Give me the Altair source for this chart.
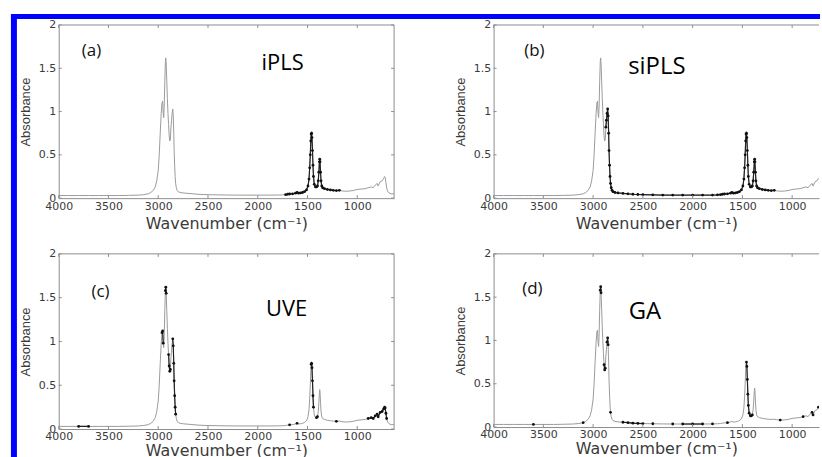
import altair as alt
import pandas as pd

# ---- spectrum (wavenumber cm-1, absorbance) ----
wavenumber = [4000, 3900, 3800, 3700, 3600, 3500, 3400, 3300, 3200, 3150, 3100, 3075, 3050, 3030, 3015,
              3000, 2990, 2980, 2970, 2962, 2956, 2950, 2945, 2940, 2934, 2928, 2924, 2920, 2914, 2908,
              2902, 2896, 2890, 2884, 2878, 2872, 2866, 2860, 2854, 2849, 2844, 2840, 2835, 2830, 2825,
              2818, 2810, 2800, 2780, 2750, 2700, 2650, 2600, 2550, 2500, 2400, 2300, 2200, 2100, 2000,
              1900, 1800, 1750, 1720, 1700, 1680, 1650, 1620, 1605, 1590, 1570, 1550, 1530, 1510, 1495,
              1485, 1478, 1472, 1467, 1463, 1459, 1455, 1450, 1445, 1440, 1432, 1420, 1410, 1400, 1392,
              1386, 1380, 1377, 1374, 1369, 1364, 1357, 1348, 1330, 1300, 1270, 1240, 1210, 1180, 1160,
              1120, 1080, 1040, 1000, 960, 920, 890, 860, 840, 820, 800, 790, 770, 750, 735,
              725, 720, 712, 705, 695, 680, 660, 640, 630]
absorbance = [0.03, 0.03, 0.03, 0.03, 0.03, 0.03, 0.03, 0.032, 0.035, 0.04, 0.05, 0.065, 0.09, 0.13, 0.2,
              0.32, 0.5, 0.75, 0.98, 1.1, 1.12, 0.98, 0.93, 1.05, 1.35, 1.58, 1.62, 1.55, 1.35, 1.15,
              0.98, 0.85, 0.72, 0.66, 0.68, 0.82, 0.9, 0.98, 1.03, 0.95, 0.75, 0.55, 0.38, 0.25, 0.17,
              0.12, 0.09, 0.075, 0.065, 0.06, 0.055, 0.05, 0.045, 0.042, 0.04, 0.038, 0.036, 0.035, 0.035, 0.035,
              0.035, 0.036, 0.038, 0.04, 0.045, 0.048, 0.05, 0.058, 0.065, 0.058, 0.06, 0.065, 0.075, 0.095, 0.14,
              0.22, 0.35, 0.5, 0.66, 0.74, 0.75, 0.7, 0.55, 0.38, 0.25, 0.16, 0.13, 0.13, 0.14, 0.2,
              0.3, 0.42, 0.45, 0.42, 0.3, 0.2, 0.14, 0.12, 0.11, 0.1, 0.095, 0.09, 0.088, 0.09, 0.085,
              0.08, 0.082, 0.088, 0.1, 0.105, 0.11, 0.12, 0.13, 0.12, 0.15, 0.17, 0.14, 0.19, 0.2, 0.23,
              0.25, 0.24, 0.18, 0.12, 0.08, 0.06, 0.05, 0.05, 0.05]

x_ticks = [4000, 3500, 3000, 2500, 2000, 1500, 1000]
y_ticks = [0, 0.5, 1, 1.5, 2]

panel_tags = ["(a)", "(b)", "(c)", "(d)"]
method_names = ["iPLS", "siPLS", "UVE", "GA"]

# selected wavenumber intervals [high, low] for each method
ipls_regions = [[1740, 1170]]
sipls_regions = [[2872, 1165]]
uve_regions = [[3800, 3700], [2962, 2948], [2930, 2918], [2900, 2878], [2858, 2825], [1690, 1675],
               [1612, 1600], [1463, 1440], [1412, 1398], [1215, 1205], [900, 700]]
ga_regions = [[3610, 3590], [3110, 3090], [2930, 2918], [2892, 2876], [2862, 2848], [2826, 2824],
              [2710, 2490], [2410, 2390], [2210, 2190], [2110, 1890], [1810, 1790], [1660, 1640],
              [1460, 1400], [1125, 1115], [895, 885], [805, 785], [740, 730]]

spec = pd.DataFrame({"w": wavenumber, "a": absorbance})
spec["idx"] = range(len(spec))


def selected(regions):
    parts = []
    for i, (hi, lo) in enumerate(regions):
        p = spec[(spec.w <= hi) & (spec.w >= lo)].copy()
        p["seg"] = i
        parts.append(p)
    return pd.concat(parts, ignore_index=True)


FRAME = "#8c8c8c"
TXT = "#3a3a3a"


def panel(k, regions, width, height, xmin, right_frame, tag_pos, tag_size,
          name_pos, name_size, title_pad, blue=False):
    line_df = spec[spec.w >= xmin]
    sel_df = selected(regions)
    sel_df = sel_df[sel_df.w >= xmin]

    xenc = alt.X("w:Q", scale=alt.Scale(domain=[4000, xmin], nice=False, zero=False),
                 axis=alt.Axis(values=x_ticks, format="d", ticks=False, grid=False,
                               labelFlush=False, labelFont="DejaVu Sans", labelFontSize=11,
                               labelColor=TXT, labelPadding=2, domainColor=FRAME,
                               title="Wavenumber (cm⁻¹)", titleFont="DejaVu Sans",
                               titleFontSize=16, titleFontWeight="normal", titleColor=TXT,
                               titlePadding=title_pad))
    yenc = alt.Y("a:Q", scale=alt.Scale(domain=[0, 2], nice=False, zero=False),
                 axis=alt.Axis(values=y_ticks, format="~g", ticks=False, grid=False,
                               labelFont="DejaVu Sans", labelFontSize=11, labelColor=TXT,
                               labelPadding=3, minExtent=20, maxExtent=20, domainColor=FRAME,
                               title="Absorbance", titleFont="Liberation Sans", titleFontSize=13,
                               titleFontWeight="normal", titleColor=TXT, titlePadding=6))

    one = pd.DataFrame({"k": [0]})
    xt = pd.DataFrame({"w": [t for t in x_ticks if t >= xmin]})
    yt = pd.DataFrame({"a": y_ticks})

    layers = [
        alt.Chart(line_df).mark_line(color="#9a9a9a", strokeWidth=1, clip=True)
        .encode(x=xenc, y=yenc, order="idx:Q"),
        alt.Chart(sel_df).mark_line(color="#222222", strokeWidth=1.2, clip=True)
        .encode(x=xenc, y=yenc, detail="seg:N", order="idx:Q"),
        alt.Chart(sel_df).mark_circle(color="#111111", size=8, opacity=1, clip=True)
        .encode(x=xenc, y=yenc),
        # frame & inward ticks
        alt.Chart(one).mark_rule(color=FRAME, strokeWidth=1)
        .encode(x=alt.value(0), x2=alt.value(width), y=alt.value(0)),
        alt.Chart(xt).mark_rule(color=FRAME, strokeWidth=1)
        .encode(x=xenc, y=alt.value(0), y2=alt.value(3)),
        alt.Chart(xt).mark_rule(color=FRAME, strokeWidth=1)
        .encode(x=xenc, y=alt.value(height - 3), y2=alt.value(height)),
        alt.Chart(yt).mark_rule(color=FRAME, strokeWidth=1)
        .encode(y=yenc, x=alt.value(0), x2=alt.value(3)),
        # labels
        alt.Chart(one).mark_text(text=panel_tags[k], font="Open Sans", fontSize=tag_size,
                                 align="center", baseline="middle", color="#111111")
        .encode(x=alt.value(tag_pos[0]), y=alt.value(tag_pos[1])),
        alt.Chart(one).mark_text(text=method_names[k], font="Open Sans", fontSize=name_size,
                                 align="center", baseline="alphabetic", color="#000000")
        .encode(x=alt.value(name_pos[0]), y=alt.value(name_pos[1])),
    ]
    if right_frame:
        layers += [
            alt.Chart(one).mark_rule(color=FRAME, strokeWidth=1)
            .encode(x=alt.value(width), y=alt.value(0), y2=alt.value(height)),
            alt.Chart(yt).mark_rule(color=FRAME, strokeWidth=1)
            .encode(y=yenc, x=alt.value(width - 3), x2=alt.value(width)),
        ]
    if blue:
        layers += [
            alt.Chart(one).mark_rule(color="#0000fe", strokeWidth=6, strokeCap="square")
            .encode(x=alt.value(-45), y=alt.value(-8), y2=alt.value(432)),
            alt.Chart(one).mark_rule(color="#0000fe", strokeWidth=5, strokeCap="square")
            .encode(x=alt.value(-45.5), x2=alt.value(762.5), y=alt.value(-8.5)),
        ]
    return alt.layer(*layers).properties(width=width, height=height)


pa = panel(0, ipls_regions, 337, 174, 630, True, (33, 26.5), 17, (225, 45), 22, 4, blue=True)
pb = panel(1, sipls_regions, 327, 174, 730, False, (41, 26.5), 17, (164, 49.5), 24, 4)
pc = panel(2, uve_regions, 337, 176, 630, True, (42, 38), 17, (229, 62), 22, 1)
pd_ = panel(3, ga_regions, 327, 174, 730, False, (39, 35), 17, (152, 65), 24, 1)

chart = alt.concat(pa, pb, pc, pd_, columns=2, spacing={"row": 56, "column": 100},
                   bounds="flush", align="each").properties(
    padding={"left": 9, "top": 11, "right": 0, "bottom": -2},
    background="white",
).configure_view(stroke=None)

chart.save("out.html", embed_options={"renderer": "svg", "actions": False})
